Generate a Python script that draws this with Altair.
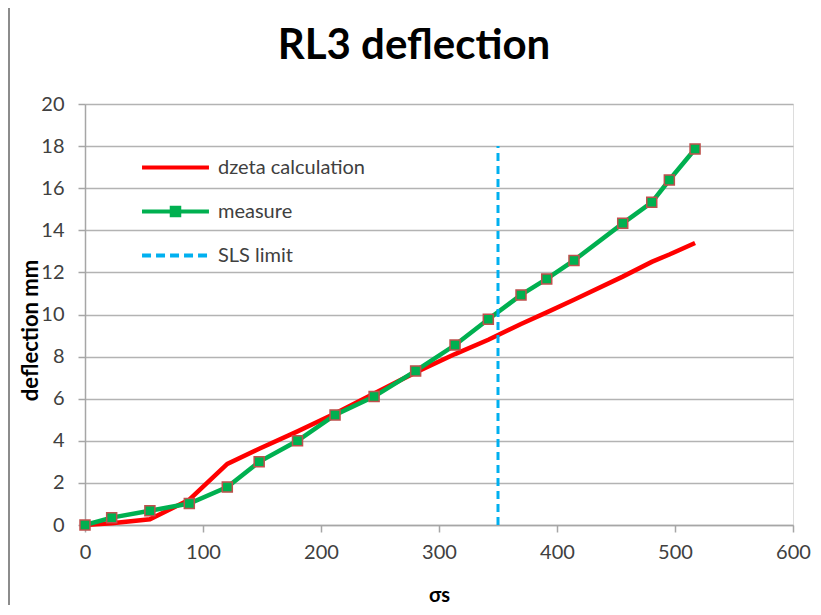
import altair as alt
import pandas as pd

# ---- data ----
sigma_s = [0, 22.6, 55, 88.4, 120.6, 147.6, 180.1, 211.9, 245, 280.2, 313.6,
           341.8, 369.5, 391.3, 414.4, 455.7, 480.3, 495.2, 517]
measure = [0, 0.35, 0.68, 1.02, 1.8, 3.0, 4.0, 5.23, 6.1, 7.32, 8.55,
           9.77, 10.93, 11.69, 12.57, 14.33, 15.33, 16.39, 17.86]
dzeta = [0, 0.08, 0.27, 1.2, 2.9, 3.62, 4.45, 5.3, 6.25, 7.25, 8.12,
         8.8, 9.55, 10.1, 10.7, 11.8, 12.5, 12.85, 13.4]
sls_x = [350, 350]
sls_y = [0, 18]

series_names = ["dzeta calculation", "measure", "SLS limit"]
series_colors = ["#ff0000", "#00b050", "#00b0f0"]
x_ticks = [0, 100, 200, 300, 400, 500, 600]
y_ticks = [0, 2, 4, 6, 8, 10, 12, 14, 16, 18, 20]

FONT = "Lato"

df_lines = pd.DataFrame(
    {"x": sigma_s + sigma_s,
     "y": dzeta + measure,
     "series": ["dzeta calculation"] * len(sigma_s) + ["measure"] * len(sigma_s),
     "order": list(range(len(sigma_s))) * 2}
)
df_meas = pd.DataFrame({"x": sigma_s, "y": measure})
df_sls = pd.DataFrame({"x": sls_x, "y": sls_y, "series": ["SLS limit"] * 2, "order": [0, 1]})

color_scale = alt.Scale(domain=series_names, range=series_colors)

xscale = alt.Scale(domain=[0, 600], nice=False)
yscale = alt.Scale(domain=[0, 20], nice=False)

x_axis = alt.Axis(values=x_ticks, grid=False, title="σs", titleFont=FONT, titleFontSize=20,
                  titleFontWeight="bold", titleColor="#000000", titleY=70, titleBaseline="middle",
                  labelFont=FONT, labelFontSize=20, labelColor="#404040", labelPadding=10,
                  labelFlush=False,
                  tickSize=7, tickColor="#a6a6a6", domainColor="#a6a6a6", domainWidth=1.5,
                  tickWidth=1.5)
y_axis = alt.Axis(values=y_ticks, grid=True, gridColor="#b3b3b3", gridWidth=1.5,
                  title="deflection mm", titleFont=FONT, titleFontSize=22, titleFontWeight="bold",
                  titleColor="#000000", titleX=-55, titleY=226, titleBaseline="middle",
                  titleAlign="center", titleAngle=270,
                  labelFont=FONT, labelFontSize=20, labelColor="#404040", labelPadding=14,
                  labelFlush=False,
                  tickSize=7, tickColor="#a6a6a6", domainColor="#a6a6a6", domainWidth=1.5,
                  tickWidth=1.5)

legend = alt.Legend(
    orient="none", legendX=80, legendY=53, title=None, padding=0,
    labelFont=FONT, labelFontSize=20, labelColor="#404040", labelOffset=32,
    rowPadding=21, symbolSize=280, symbolStrokeWidth=4,
    symbolType={"expr": "datum.value == 'measure' ? 'M-4,0H4M-0.45,-0.45H0.45V0.45H-0.45Z' : 'M-4,0H4'"},
    symbolDash={"expr": "datum.value == 'SLS limit' ? [9,5] : [1,0]"},
    symbolFillColor={"expr": "datum.value == 'measure' ? '#00b050' : 'transparent'"},
)

lines = alt.Chart(df_lines).mark_line(strokeWidth=4.5).encode(
    x=alt.X("x:Q", scale=xscale, axis=x_axis),
    y=alt.Y("y:Q", scale=yscale, axis=y_axis),
    color=alt.Color("series:N", scale=color_scale, legend=legend),
    order="order:Q",
)

sls = alt.Chart(df_sls).mark_line(strokeWidth=3, strokeDash=[8, 5]).encode(
    x=alt.X("x:Q", scale=xscale),
    y=alt.Y("y:Q", scale=yscale),
    color=alt.Color("series:N", scale=color_scale, legend=legend),
    order="order:Q",
)

points = alt.Chart(df_meas).mark_square(size=100, filled=True, fill="#00b050",
                                         stroke="#c0504d", strokeWidth=1.5, opacity=1).encode(
    x=alt.X("x:Q", scale=xscale),
    y=alt.Y("y:Q", scale=yscale),
)

frame = alt.Chart(pd.DataFrame({"a": [0]})).mark_rect(
    fill="transparent", stroke="#8c8c8c", strokeWidth=2
).encode(x=alt.value(-76), x2=alt.value(760), y=alt.value(-100), y2=alt.value(520))

chart = alt.layer(frame, lines, sls, points).properties(
    width=708, height=421,
    title=alt.Title("RL3 deflection", font=FONT, fontSize=42, fontWeight="bold",
                    color="#000000", anchor="middle", frame="group", offset=-98,
                    baseline="alphabetic", dx=-25),
    padding={"left": 77, "top": 96, "right": 20, "bottom": 80},
    autosize=alt.AutoSizeParams(type="none"),
).configure_view(stroke=None).configure(background="#ffffff")

chart.save("out.html", embed_options={"renderer": "svg", "actions": False})
